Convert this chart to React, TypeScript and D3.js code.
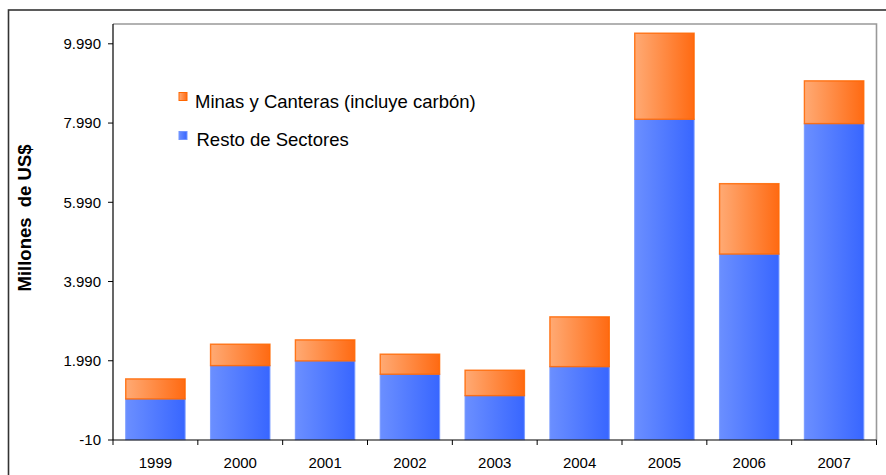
import React from "react";
import * as d3 from "d3";

const years = ["1999", "2000", "2001", "2002", "2003", "2004", "2005", "2006", "2007"];
const restoSectores = [1026, 1868, 1986, 1650, 1110, 1842, 8085, 4683, 7976];
const minasCanteras = [506, 540, 531, 506, 641, 1256, 2173, 1777, 1079];
const yTicks = [-10, 1990, 3990, 5990, 7990, 9990];
const seriesNames = ["Minas y Canteras (incluye carbón)", "Resto de Sectores"];
const yLabel = "Millones\u00a0 de US$";

const W = 886;
const H = 475;
const plot = { left: 113, top: 24, right: 876.5, bottom: 440 };

const fmt = (v: number) => {
  const s = Math.abs(v).toString().replace(/\B(?=(\d{3})+(?!\d))/g, ".");
  return (v < 0 ? "-" : "") + s;
};

export default function App() {
  const x = d3
    .scaleBand<string>()
    .domain(years)
    .range([plot.left, plot.right])
    .paddingInner(0.3)
    .paddingOuter(0.15);
  const y = d3.scaleLinear().domain([-10, 10490]).range([plot.bottom, plot.top]);
  const step = x.step();
  const font = "Arial, 'Liberation Sans', Helvetica, sans-serif";

  return (
    <svg
      width={W}
      height={H}
      style={{ position: "absolute", left: 0, top: 0, background: "#fff" }}
      fontFamily={font}
    >
      <defs>
        <linearGradient id="gOrange" x1="0" y1="0" x2="1" y2="0">
          <stop offset="0" stopColor="#FFAA74" />
          <stop offset="1" stopColor="#FF6A12" />
        </linearGradient>
        <linearGradient id="gBlue" x1="0" y1="0" x2="1" y2="0">
          <stop offset="0" stopColor="#6B8FFF" />
          <stop offset="1" stopColor="#3866FF" />
        </linearGradient>
      </defs>
      <rect x={0} y={0} width={W} height={H} fill="#fff" />
      {/* outer frame */}
      <rect x={8.5} y={10} width={W + 20} height={H + 20} fill="none" stroke="#333" strokeWidth={1.6} />
      {/* plot frame (top/right) */}
      <path
        d={`M${plot.left},${plot.top}H${plot.right}V${plot.bottom}`}
        fill="none"
        stroke="#999"
        strokeWidth={1.6}
      />
      {/* bars */}
      {years.map((yr, i) => {
        const bx = x(yr)!;
        const bw = x.bandwidth();
        const b0 = y(0);
        const b1 = y(restoSectores[i]);
        const b2 = y(restoSectores[i] + minasCanteras[i]);
        return (
          <g key={yr}>
            <rect
              x={bx}
              y={b1}
              width={bw}
              height={b0 - b1}
              fill="url(#gBlue)"
              stroke="#7396FF"
              strokeOpacity={0.8}
              strokeWidth={1.2}
            />
            <rect
              x={bx}
              y={b2}
              width={bw}
              height={b1 - b2}
              fill="url(#gOrange)"
              stroke="#FF6600"
              strokeOpacity={0.85}
              strokeWidth={1.4}
            />
          </g>
        );
      })}
      {/* y axis */}
      <line x1={plot.left} x2={plot.left} y1={plot.top} y2={plot.bottom} stroke="#000" strokeWidth={1.2} />
      {yTicks.map((t) => (
        <g key={t}>
          <line x1={plot.left - 5} x2={plot.left} y1={y(t)} y2={y(t)} stroke="#000" strokeWidth={1} />
          <text x={plot.left - 12} y={y(t)} dy="0.35em" textAnchor="end" fontSize={15} fill="#000">
            {fmt(t)}
          </text>
        </g>
      ))}
      {/* x axis */}
      <line x1={plot.left} x2={plot.right} y1={plot.bottom} y2={plot.bottom} stroke="#000" strokeWidth={1.2} />
      {years.map((yr, i) => (
        <line
          key={"t" + yr}
          x1={plot.left + step * i}
          x2={plot.left + step * i}
          y1={plot.bottom}
          y2={plot.bottom + 5}
          stroke="#000"
          strokeWidth={1}
        />
      ))}
      <line x1={plot.right} x2={plot.right} y1={plot.bottom} y2={plot.bottom + 5} stroke="#000" strokeWidth={1} />
      {years.map((yr) => (
        <text
          key={"l" + yr}
          x={x(yr)! + x.bandwidth() / 2}
          y={468}
          textAnchor="middle"
          fontSize={15}
          fill="#000"
        >
          {yr}
        </text>
      ))}
      {/* y label */}
      <text
        transform={`translate(31,218) rotate(-90)`}
        textAnchor="middle"
        fontSize={18.5}
        fontWeight="bold"
        fill="#000"
      >
        {yLabel}
      </text>
      {/* legend */}
      <rect x={179} y={92.5} width={8} height={8} fill="url(#gOrange)" stroke="#FF6600" strokeWidth={1} />
      <text x={195} y={107.5} fontSize={18.5} fill="#000">
        {seriesNames[0]}
      </text>
      <rect x={179} y={131.5} width={8} height={8} fill="url(#gBlue)" stroke="#7396FF" strokeWidth={1} />
      <text x={196.5} y={145.7} fontSize={18.5} fill="#000">
        {seriesNames[1]}
      </text>
    </svg>
  );
}
